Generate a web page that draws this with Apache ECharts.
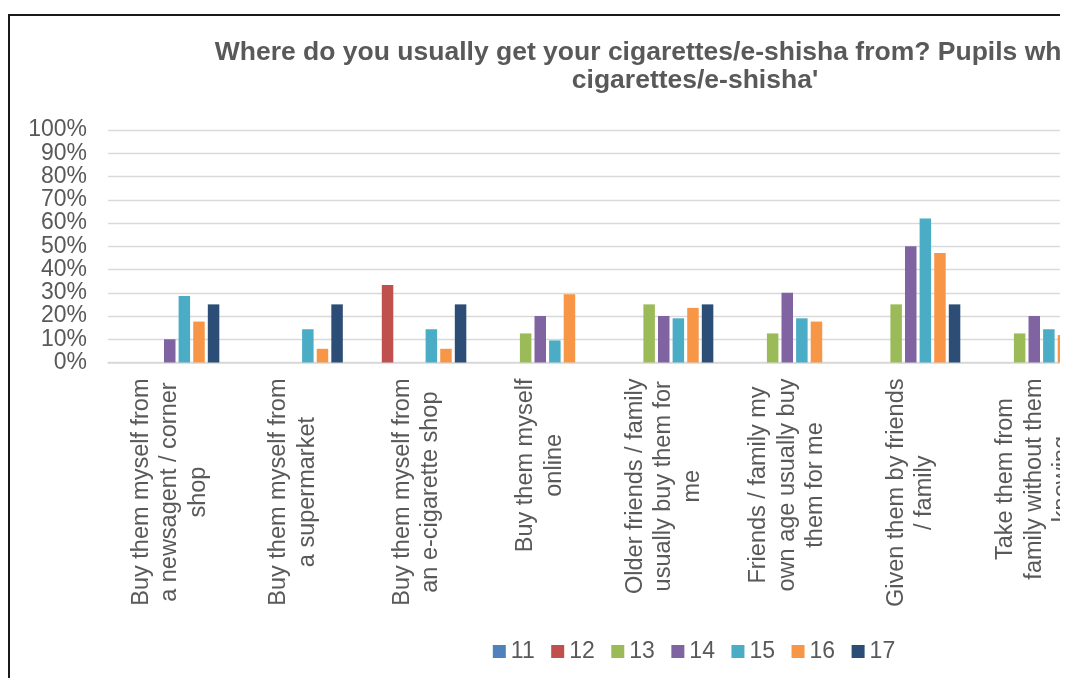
<!DOCTYPE html>
<html>
<head>
<meta charset="utf-8">
<script src="https://cdn.jsdelivr.net/npm/echarts@6/dist/echarts.min.js"></script>
<style>
  html, body { margin: 0; padding: 0; background: #fff; overflow: hidden; }
  #clip { position: absolute; left: 0; top: 0; width: 1060px; height: 678px; overflow: hidden; background: #fff; }
  #frame { position: absolute; left: 8px; top: 14px; width: 1500px; height: 800px; border: 2px solid #1a1a1a; box-sizing: border-box; }
  #chart { position: absolute; left: 0; top: 0; width: 1388px; height: 678px; }
</style>
</head>
<body>
<div id="clip">
  <div id="frame"></div>
  <div id="chart"></div>
</div>
<script>
const titleLines = ["Where do you usually get your cigarettes/e-shisha from? Pupils who 'smoke", "cigarettes/e-shisha'"];
const categories = [
  "Buy them myself from\na newsagent / corner\nshop",
  "Buy them myself from\na supermarket",
  "Buy them myself from\nan e-cigarette shop",
  "Buy them myself\nonline",
  "Older friends / family\nusually buy them for\nme",
  "Friends / family my\nown age usually buy\nthem for me",
  "Given them by friends\n/ family",
  "Take them from\nfamily without them\nknowing"
];
const seriesNames = ["11", "12", "13", "14", "15", "16", "17"];
const age11 = [null, null, null, null, null, null, null, null];
const age12 = [null, null, 33.3, null, null, null, null, null];
const age13 = [null, null, null, 12.5, 25, 12.5, 25, 12.5];
const age14 = [10, null, null, 20, 20, 30, 50, 20];
const age15 = [28.6, 14.3, 14.3, 9.5, 19.0, 19.0, 61.9, 14.3];
const age16 = [17.6, 5.9, 5.9, 29.4, 23.5, 17.6, 47.1, 11.8];
const age17 = [25, 25, 25, null, 25, null, 25, null];
const yTicks = [0, 10, 20, 30, 40, 50, 60, 70, 80, 90, 100];

const seriesData = [age11, age12, age13, age14, age15, age16, age17];
const colors = ["#4F81BD", "#C0504D", "#9BBB59", "#8064A2", "#4BACC6", "#F79646", "#2C4D75"];
const textColor = "#595959";
const fontFam = "'Liberation Sans', Arial, sans-serif";

const chart = echarts.init(document.getElementById('chart'), null, { renderer: 'canvas' });
chart.setOption({
  animation: false,
  color: colors,
  title: {
    text: titleLines.join('\n'),
    left: 690,
    textAlign: 'center',
    top: 33,
    textStyle: { fontFamily: fontFam, fontSize: 26.5, fontWeight: 'bold', color: textColor, lineHeight: 28.5 }
  },
  legend: {
    data: seriesNames,
    left: 'center',
    top: 635,
    itemWidth: 13,
    itemHeight: 13,
    itemGap: 16.5,
    icon: 'rect',
    textStyle: { fontFamily: fontFam, fontSize: 23, color: textColor, padding: [0, 0, 0, 0] }
  },
  grid: { left: 108, top: 130, width: 988, height: 232.5, containLabel: false },
  xAxis: {
    type: 'category',
    data: categories,
    axisLine: { show: true, lineStyle: { color: '#D9D9D9', width: 1.5 } },
    axisTick: { show: false },
    axisLabel: {
      interval: 0,
      rotate: 90,
      margin: 16,
      fontFamily: fontFam,
      fontSize: 23.5,
      color: textColor,
      formatter: function (v) { return v.split('\n').map(function (l) { return '{c|' + l + '}'; }).join('\n'); },
      rich: { c: { align: 'center', fontFamily: fontFam, fontSize: 23.5, color: textColor, lineHeight: 28.5 } }
    }
  },
  yAxis: {
    type: 'value',
    min: yTicks[0],
    max: yTicks[yTicks.length - 1],
    interval: 10,
    axisLine: { show: false },
    axisTick: { show: false },
    splitLine: { lineStyle: { color: '#D9D9D9', width: 1.3 } },
    axisLabel: { margin: 21, fontFamily: fontFam, fontSize: 23, color: textColor, formatter: '{value}%' }
  },
  series: seriesNames.map(function (n, i) {
    return {
      name: n,
      type: 'bar',
      data: seriesData[i],
      barWidth: 11.5,
      barGap: '27%',
      itemStyle: { color: colors[i] }
    };
  })
});
</script>
</body>
</html>
